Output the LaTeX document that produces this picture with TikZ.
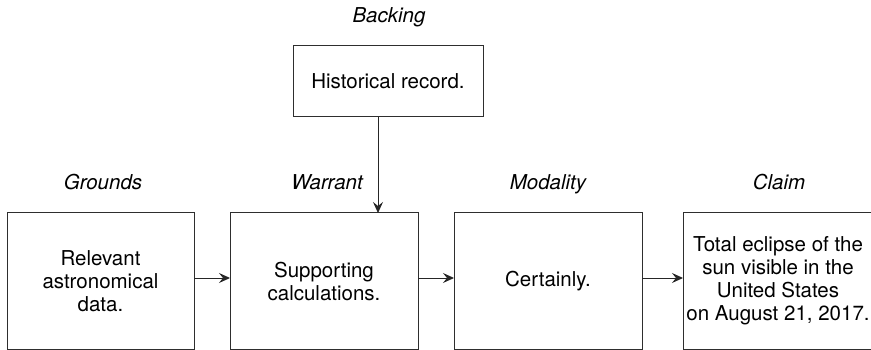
\documentclass[tikz,border=0pt]{standalone}
\usepackage{fontspec}
\setmainfont{TeX Gyre Heros}
\usetikzlibrary{arrows.meta,calc}
\begin{document}
\begin{tikzpicture}[x=1pt,y=-1pt,
  every node/.style={font=\fontsize{20.5}{23}\selectfont, text=black},
  box/.style={draw=black!82, line width=1pt, inner sep=0pt, outer sep=0pt,
    align=center, minimum height=136pt, minimum width=188pt},
  role/.style={anchor=base, font=\fontsize{20.5}{23}\selectfont\itshape},
  link/.style={draw=black!85, line width=1pt,
    -{Stealth[length=11pt,width=10pt,inset=4pt]}}
]
\useasboundingbox (0,0) rectangle (871,350);

% argument boxes
\node[box, minimum width=187pt] (g) at (100.5,281) {Relevant\\astronomical\\data.};
\node[box] (w) at (324,281) {Supporting\\calculations.};
\node[box] (m) at (548,281) {Certainly.};
\node[box, minimum width=190pt] (c) at (778,281) {Total eclipse of the\\sun visible in the\\United States\\on August 21, 2017.};
\node[box, minimum width=190pt, minimum height=71pt] (b) at (388,81.5) {Historical record.};

% role labels
\node[role] (lg) at (103,190) {Grounds};
\node[role] (lw) at (327,190) {Warrant};
\node[role] (lm) at (548,190) {Modality};
\node[role] (lc) at (779,190) {Claim};
\node[role] (lb) at (389,23) {Backing};

% connectors
\draw[link] ([yshift=3pt]g.east) -- ([yshift=3pt]w.west);
\draw[link] ([yshift=3pt]w.east) -- ([yshift=3pt]m.west);
\draw[link] ([yshift=3pt]m.east) -- ([yshift=3pt]c.west);
\draw[link] ([xshift=-10pt]b.south) -- ([xshift=-10pt]b.south |- w.north);
\end{tikzpicture}
\end{document}
